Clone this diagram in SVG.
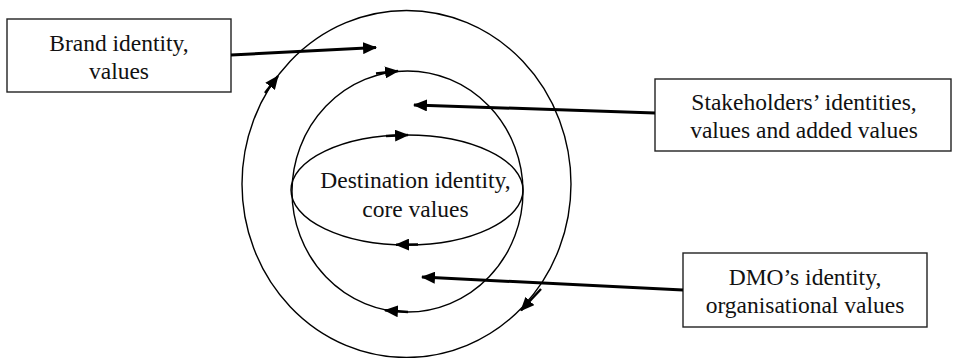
<svg xmlns="http://www.w3.org/2000/svg" width="953" height="358" viewBox="0 0 953 358">
<defs>
<style>
.ring{fill:none;stroke:#000;stroke-width:1.4}
.box{fill:#fff;stroke:#222;stroke-width:1.4}
.lbl{font-size:23.5px;fill:#111;text-anchor:middle}
.arr{fill:none;stroke:#000;stroke-width:3;marker-end:url(#ah)}
.carr{fill:none;stroke:#000;stroke-width:2.4;marker-end:url(#ah)}
</style>
<marker id="ah" markerUnits="userSpaceOnUse" markerWidth="14" markerHeight="12" viewBox="0 0 14 12" refX="13" refY="6" orient="auto">
<path d="M0,0 L14,6 L0,12 z" fill="#000"/>
</marker>
</defs>
<rect width="953" height="358" fill="#fff"/>
<g id="rings">
<ellipse id="outer" class="ring" cx="406.5" cy="184" rx="164.5" ry="173.5"/>
<ellipse id="middle" class="ring" cx="407.5" cy="191.5" rx="115.5" ry="120.5"/>
<ellipse id="inner" class="ring" cx="407" cy="190" rx="116" ry="55"/>
</g>
<g font-family="'Liberation Serif', 'DejaVu Serif', serif">
<g id="node-destination">
<text class="lbl" x="415.5" y="188">Destination identity,</text>
<text class="lbl" x="415.5" y="217">core values</text>
</g>
<g id="node-brand">
<rect class="box" x="7" y="19" width="224" height="73"/>
<text class="lbl" x="119" y="51">Brand identity,</text>
<text class="lbl" x="119" y="79">values</text>
</g>
<g id="node-stakeholders">
<rect class="box" x="655" y="79" width="296" height="72"/>
<text class="lbl" x="804" y="110">Stakeholders’ identities,</text>
<text class="lbl" x="804" y="138">values and added values</text>
</g>
<g id="node-dmo">
<rect class="box" x="683" y="253" width="244" height="74"/>
<text class="lbl" x="805" y="285">DMO’s identity,</text>
<text class="lbl" x="805" y="313">organisational values</text>
</g>
</g>
<g id="connectors">
<line class="arr" x1="231" y1="55" x2="376" y2="47.5"/>
<line class="arr" x1="655" y1="113" x2="414" y2="105"/>
<line class="arr" x1="683" y1="290" x2="422" y2="277"/>
<line class="carr" x1="265" y1="93" x2="278" y2="76"/>
<line class="carr" x1="376" y1="73.5" x2="398" y2="71"/>
<line class="carr" x1="386" y1="136" x2="408" y2="135"/>
<line class="carr" x1="418" y1="244.5" x2="396" y2="244.8"/>
<line class="carr" x1="408" y1="312" x2="385" y2="310.3"/>
<line class="carr" x1="541" y1="289" x2="521" y2="310.5"/>
</g>
</svg>
